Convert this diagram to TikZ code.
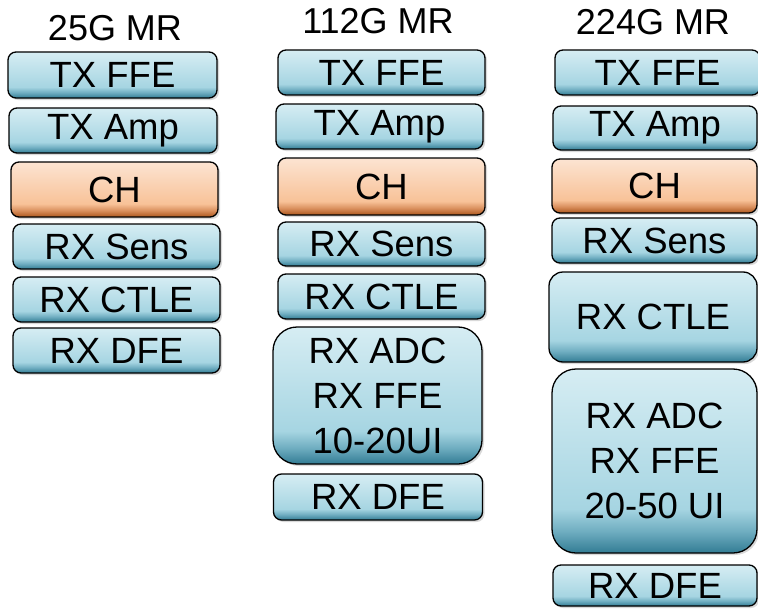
\documentclass[tikz,border=0pt]{standalone}
\usepackage{fontspec}
\setmainfont{Liberation Sans}
\usetikzlibrary{shadows}
\definecolor{bluetop}{RGB}{214,237,243}
\definecolor{bluemid}{RGB}{166,213,226}
\definecolor{bluelow}{RGB}{112,174,193}
\definecolor{bluebot}{RGB}{50,124,148}
\definecolor{orgtop}{RGB}{252,228,210}
\definecolor{orgmid}{RGB}{248,194,152}
\definecolor{orglow}{RGB}{218,144,94}
\definecolor{orgbot}{RGB}{172,86,28}
\pgfdeclareverticalshading{blueshade}{100bp}{color(0bp)=(bluebot); color(25bp)=(bluebot); color(31bp)=(bluelow); color(37bp)=(bluemid); color(75bp)=(bluetop); color(100bp)=(bluetop)}
\pgfdeclareverticalshading{orgshade}{100bp}{color(0bp)=(orgbot); color(25bp)=(orgbot); color(31bp)=(orglow); color(37bp)=(orgmid); color(75bp)=(orgtop); color(100bp)=(orgtop)}
\tikzset{
  blk/.style={draw=black, line width=1.3pt, rounded corners=8pt,
    shading=blueshade,
    drop shadow={shadow xshift=2pt, shadow yshift=-2pt, opacity=0.3},
    inner sep=0pt, outer sep=0pt, align=center,
    font=\fontsize{36.5}{45}\selectfont},
  big/.style={blk, rounded corners=24pt},
  chan/.style={blk, shading=orgshade},
  ttl/.style={inner sep=0pt, font=\fontsize{36}{42}\selectfont},
  sz/.style 2 args={minimum width=#1pt, minimum height=#2pt}
}
\begin{document}
\begin{tikzpicture}[x=1pt, y=-1pt]
\useasboundingbox (0,0) rectangle (758,610);
% 25G column
\node[ttl] (t1) at (115,28) {25G MR};
\node[blk, sz={209}{46}] (a1) at (112.5,75) {TX FFE};
\node[blk, sz={208}{45}] (a2) at (113,130.5) {TX Amp};
\node[chan, sz={207}{55}] (a3) at (114.5,189.5) {CH};
\node[blk, sz={207}{45}] (a4) at (116.5,246.5) {RX Sens};
\node[blk, sz={207}{45}] (a5) at (116.5,299.5) {RX CTLE};
\node[blk, sz={207}{45}] (a6) at (116.5,350.5) {RX DFE};
% 112G column
\node[ttl] (t2) at (378,21) {112G MR};
\node[blk, sz={207}{45}] (b1) at (381.5,72.5) {TX FFE};
\node[blk, sz={207}{45}] (b2) at (379.5,126.5) {TX Amp};
\node[chan, sz={207}{57}] (b3) at (381.5,186.5) {CH};
\node[blk, sz={207}{44}] (b4) at (381.5,244) {RX Sens};
\node[blk, sz={207}{45}] (b5) at (381.5,296.5) {RX CTLE};
\node[big, sz={209}{137}] (b6) at (377.5,395.5) {RX ADC\\RX FFE\\10-20UI};
\node[blk, sz={209}{46}] (b7) at (378,497) {RX DFE};
% 224G column
\node[ttl] (t3) at (653,22) {224G MR};
\node[blk, sz={205}{45}] (c1) at (657.5,72.5) {TX FFE};
\node[blk, sz={204}{44}] (c2) at (655,128) {TX Amp};
\node[chan, sz={205}{54}] (c3) at (654.5,186) {CH};
\node[blk, sz={205}{45}] (c4) at (654.5,240.5) {RX Sens};
\node[blk, rounded corners=14pt, sz={208}{90}] (c5) at (653,317) {RX CTLE};
\node[big, sz={205}{184}] (c6) at (654.5,461) {RX ADC\\RX FFE\\20-50 UI};
\node[blk, sz={204}{41}] (c7) at (655,585.5) {RX DFE};
\end{tikzpicture}
\end{document}
